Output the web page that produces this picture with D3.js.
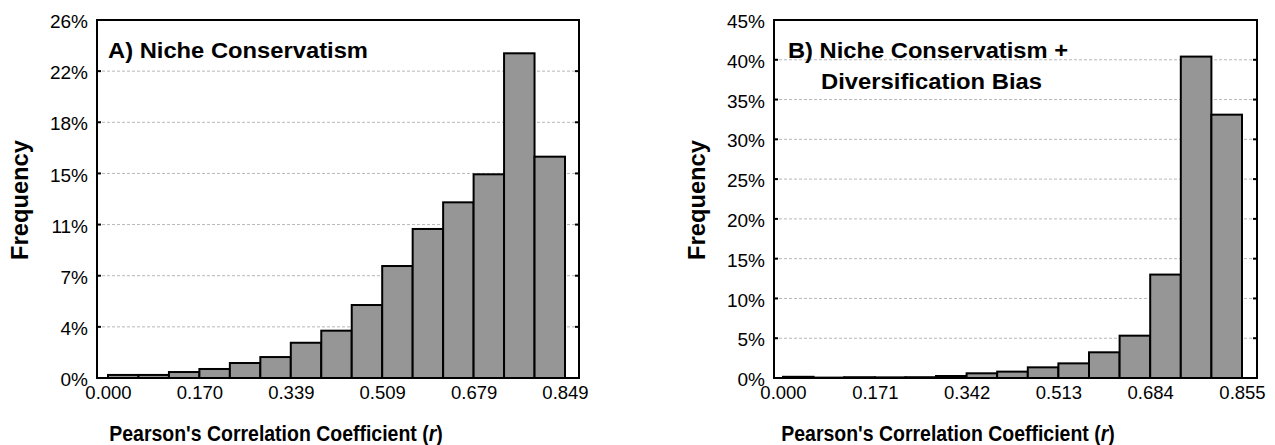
<!DOCTYPE html>
<html>
<head>
<meta charset="utf-8">
<script src="https://cdn.jsdelivr.net/npm/d3@7"></script>
<style>
  body { margin: 0; background: #fff; }
  text { font-family: "Liberation Sans", Arial, sans-serif; fill: #000; }
</style>
</head>
<body>
<script>
var width = 1275;
var height = 445;

// panel A data (15 bins of Pearson's r)
var freqA = [0.0022, 0.0022, 0.0043, 0.0065, 0.0108, 0.0151, 0.0254, 0.0341, 0.0526, 0.0807, 0.1074, 0.1266, 0.1468, 0.234, 0.1595];
var xTicksA = ["0.000", "0.170", "0.339", "0.509", "0.679", "0.849"];
var yTicksA = ["0%", "4%", "7%", "11%", "15%", "18%", "22%", "26%"];
var rMaxA = 0.849;
var yMaxA = 0.258;

// panel B data
var freqB = [0.0015, 0.0005, 0.001, 0.0008, 0.001, 0.0025, 0.0059, 0.008, 0.0134, 0.0184, 0.0323, 0.0532, 0.130, 0.404, 0.331];
var xTicksB = ["0.000", "0.171", "0.342", "0.513", "0.684", "0.855"];
var yTicksB = ["0%", "5%", "10%", "15%", "20%", "25%", "30%", "35%", "40%", "45%"];
var rMaxB = 0.855;
var yMaxB = 0.45;

var titleA = ["A) Niche Conservatism"];
var titleB = ["B) Niche Conservatism +", "Diversification Bias"];

var svg = d3.select("body").append("svg").attr("width", width).attr("height", height);

var drawPanel = function(opt) {
  var g = svg.append("g");
  var n = opt.freq.length;
  var binW = opt.rMax / n;

  // bars from x0 to x1, frame a bit wider
  var x = d3.scaleLinear().domain([0, opt.rMax]).range([opt.x0, opt.x1]);
  var y = d3.scaleLinear().domain([0, opt.yMax]).range([378, 20]);
  var left = opt.x0 - opt.padL, right = opt.x1 + opt.padR;

  var yVals = opt.yLabels.map(function(d, i) { return i * opt.yMax / (opt.yLabels.length - 1); });
  var xVals = opt.xLabels.map(function(d, i) { return i * opt.rMax / (opt.xLabels.length - 1); });

  // grid
  g.selectAll(".grid").data(yVals.slice(1, -1)).enter().append("line")
    .attr("x1", left).attr("x2", right)
    .attr("y1", function(d) { return y(d); }).attr("y2", function(d) { return y(d); })
    .attr("stroke", "#b8b8b8").attr("stroke-width", 1).attr("stroke-dasharray", "3,2");

  // bars
  g.selectAll(".bar").data(opt.freq).enter().append("rect")
    .attr("x", function(d, i) { return x(i * binW); })
    .attr("width", function(d, i) { return x((i + 1) * binW) - x(i * binW); })
    .attr("y", function(d) { return y(d); })
    .attr("height", function(d) { return y(0) - y(d); })
    .attr("fill", "#969696").attr("stroke", "#000").attr("stroke-width", 2);

  // y axis labels
  var yAxis = d3.axisLeft(y).tickValues(yVals)
    .tickFormat(function(d, i) { return opt.yLabels[i]; })
    .tickSize(0).tickPadding(9);
  var ya = g.append("g").attr("transform", "translate(" + left + ",0)").call(yAxis);
  ya.select(".domain").remove();
  ya.selectAll("text").style("font-size", "19px").attr("fill", "#000").attr("dy", "0.4em");

  // x axis labels
  var xAxis = d3.axisBottom(x).tickValues(xVals)
    .tickFormat(function(d, i) { return opt.xLabels[i]; })
    .tickSize(0).tickPadding(8);
  var xa = g.append("g").attr("transform", "translate(0,378)").call(xAxis);
  xa.select(".domain").remove();
  xa.selectAll("text").style("font-size", "18.5px").attr("fill", "#000");

  // inner tick marks left and right
  g.selectAll(".tl").data(yVals).enter().append("line")
    .attr("x1", left).attr("x2", left + 4)
    .attr("y1", function(d) { return y(d); }).attr("y2", function(d) { return y(d); })
    .attr("stroke", "#000").attr("stroke-width", 2);
  g.selectAll(".tr").data(yVals).enter().append("line")
    .attr("x1", right - 4).attr("x2", right)
    .attr("y1", function(d) { return y(d); }).attr("y2", function(d) { return y(d); })
    .attr("stroke", "#000").attr("stroke-width", 2);

  // frame
  g.append("rect").attr("x", left).attr("y", 20)
    .attr("width", right - left).attr("height", 358)
    .attr("fill", "none").attr("stroke", "#000").attr("stroke-width", 2);

  // panel title
  g.selectAll(".ttl").data(opt.title).enter().append("text")
    .attr("x", function(d, i) { return opt.titleX[i]; })
    .attr("y", function(d, i) { return 58 + i * 31; })
    .attr("textLength", function(d, i) { return opt.titleW[i]; })
    .attr("lengthAdjust", "spacingAndGlyphs")
    .style("font-size", "22px").style("font-weight", "bold")
    .text(function(d) { return d; });

  // axis titles (a bit condensed like the original)
  var xt = g.append("text")
    .attr("transform", "translate(" + opt.xTitleX + ",441) scale(0.885,1)")
    .attr("text-anchor", "middle")
    .style("font-size", "22px").style("font-weight", "bold");
  xt.append("tspan").text("Pearson's Correlation Coefficient (");
  xt.append("tspan").style("font-style", "italic").text("r");
  xt.append("tspan").text(")");

  g.append("text")
    .attr("transform", "translate(" + opt.yTitleX + ",200) rotate(-90)")
    .attr("text-anchor", "middle")
    .attr("textLength", 120).attr("lengthAdjust", "spacingAndGlyphs")
    .style("font-size", "23px").style("font-weight", "bold")
    .text("Frequency");
};

drawPanel({
  freq: freqA, xLabels: xTicksA, yLabels: yTicksA, rMax: rMaxA, yMax: yMaxA,
  x0: 108, x1: 565, padL: 11, padR: 14,
  title: titleA, titleX: [108], titleW: [260], xTitleX: 276, yTitleX: 28
});

drawPanel({
  freq: freqB, xLabels: xTicksB, yLabels: yTicksB, rMax: rMaxB, yMax: yMaxB,
  x0: 783, x1: 1242, padL: 9, padR: 15,
  title: titleB, titleX: [788, 821], titleW: [280, 221], xTitleX: 948, yTitleX: 705
});
</script>
</body>
</html>
